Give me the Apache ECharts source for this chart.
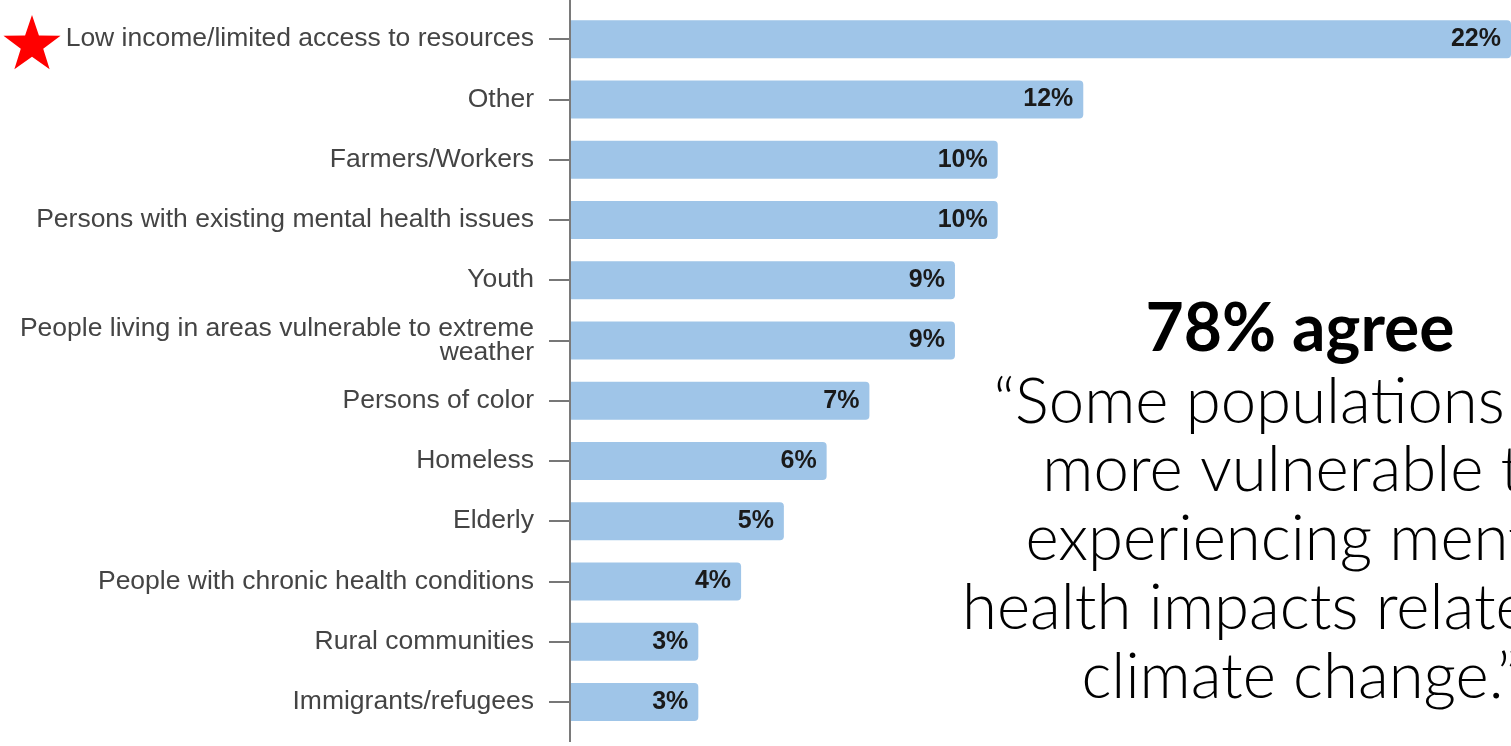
<!DOCTYPE html>
<html>
<head>
<meta charset="utf-8">
<script src="https://cdn.jsdelivr.net/npm/echarts@6/dist/echarts.min.js"></script>
<style>
html,body{margin:0;padding:0;background:#fff;}
#chart{width:1511px;height:746px;}
</style>
</head>
<body>
<div id="chart"></div>
<script>
const categories = [
  'Low income/limited access to resources',
  'Other',
  'Farmers/Workers',
  'Persons with existing mental health issues',
  'Youth',
  'People living in areas vulnerable to extreme\nweather',
  'Persons of color',
  'Homeless',
  'Elderly',
  'People with chronic health conditions',
  'Rural communities',
  'Immigrants/refugees'
];
const values = [22, 12, 10, 10, 9, 9, 7, 6, 5, 4, 3, 3];
const headline = '78% agree';
const quoteLines = [
  '\u201CSome populations are',
  'more vulnerable to',
  'experiencing mental',
  'health impacts related to',
  'climate change.\u201D'
];

function starPoints(cx, cy, R, r) {
  const pts = [];
  for (let i = 0; i < 10; i++) {
    const rad = i % 2 === 0 ? R : r;
    const a = -Math.PI / 2 + i * Math.PI / 5;
    pts.push([cx + rad * Math.cos(a), cy + rad * Math.sin(a)]);
  }
  return pts;
}

const chart = echarts.init(document.getElementById('chart'), null, {renderer: 'canvas'});
const headSize = 66, quoteSize = 63.5;
const headBaseline = 350, quoteBaseline0 = 421, quoteStep = 68.8;
const graphics = [
  {type: 'line', z: 100, shape: {x1: 570, y1: 0, x2: 570, y2: 742}, style: {stroke: '#7a7a7a', lineWidth: 2}},
  {type: 'polygon', z: 100, shape: {points: starPoints(32, 45, 30, 11.8)}, style: {fill: '#ff0000'}},
  {type: 'text', z: 100, x: 1300, y: headBaseline - 0.8 * headSize, style: {text: headline, align: 'center', verticalAlign: 'top', font: 'bold ' + headSize + 'px Lato', fill: '#000'}}
];
quoteLines.forEach((t, i) => {
  graphics.push({type: 'text', z: 100, x: 1300, y: quoteBaseline0 + i * quoteStep - 0.8 * quoteSize,
    style: {text: t, align: 'center', verticalAlign: 'top', font: '300 ' + quoteSize + 'px Lato', fill: '#000'}});
});

chart.setOption({
  animation: false,
  backgroundColor: '#fff',
  grid: {left: 570, right: 0, top: 9, height: 723, containLabel: false},
  xAxis: {type: 'value', min: 0, max: 22, show: false},
  yAxis: {
    type: 'category',
    data: categories,
    inverse: true,
    axisLine: {show: false},
    axisTick: {show: true, alignWithLabel: true, length: 21, lineStyle: {color: '#777', width: 2}},
    axisLabel: {fontSize: 26.5, color: '#444', fontFamily: 'Liberation Sans', margin: 36, lineHeight: 24, align: 'right'},
    splitLine: {show: false}
  },
  series: [{
    type: 'bar',
    data: values,
    barWidth: 38,
    itemStyle: {color: '#9fc5e8', borderRadius: [0, 4, 4, 0]},
    label: {show: true, position: 'insideRight', distance: 10, formatter: '{c}%',
      fontWeight: 'bold', fontSize: 25, color: '#1a1a1a', fontFamily: 'Liberation Sans'}
  }],
  graphic: graphics
});
</script>
</body>
</html>
